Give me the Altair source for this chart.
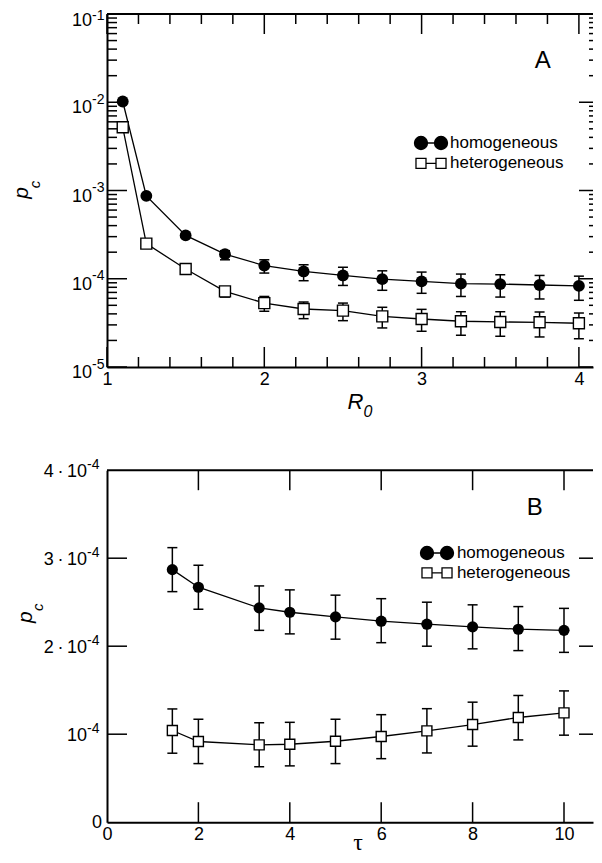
import altair as alt
import pandas as pd

FONT = "Liberation Sans"
SERIES = ["homogeneous", "heterogeneous"]

# ---------------- Panel A data ----------------
R0 = [1.1, 1.25, 1.5, 1.75, 2.0, 2.25, 2.5, 2.75, 3.0, 3.25, 3.5, 3.75, 4.0]
hom_A = [1.02e-2, 8.7e-4, 3.1e-4, 1.9e-4, 1.41e-4, 1.21e-4, 1.09e-4, 9.9e-5, 9.35e-5, 8.8e-5, 8.7e-5, 8.5e-5, 8.3e-5]
hom_A_lo = [9.8e-3, 8.4e-4, 2.95e-4, 1.64e-4, 1.16e-4, 9.5e-5, 8.4e-5, 7.4e-5, 6.84e-5, 6.3e-5, 6.2e-5, 5.9e-5, 5.7e-5]
hom_A_hi = [1.06e-2, 9.0e-4, 3.25e-4, 2.08e-4, 1.64e-4, 1.44e-4, 1.35e-4, 1.23e-4, 1.19e-4, 1.13e-4, 1.11e-4, 1.09e-4, 1.07e-4]
het_A = [5.2e-3, 2.5e-4, 1.29e-4, 7.2e-5, 5.3e-5, 4.54e-5, 4.35e-5, 3.75e-5, 3.5e-5, 3.3e-5, 3.24e-5, 3.21e-5, 3.13e-5]
het_A_lo = [5.0e-3, 2.4e-4, 1.24e-4, 6.2e-5, 4.28e-5, 3.53e-5, 3.35e-5, 2.77e-5, 2.54e-5, 2.29e-5, 2.23e-5, 2.19e-5, 2.09e-5]
het_A_hi = [5.4e-3, 2.6e-4, 1.34e-4, 8.05e-5, 6.3e-5, 5.45e-5, 5.3e-5, 4.75e-5, 4.5e-5, 4.23e-5, 4.23e-5, 4.2e-5, 4.09e-5]

A_XTICKS = [1, 2, 3, 4]
A_XMINOR = [1.2, 1.4, 1.6, 1.8, 2.2, 2.4, 2.6, 2.8, 3.2, 3.4, 3.6, 3.8]
A_YMAJOR = [1e-5, 1e-4, 1e-3, 1e-2, 1e-1]
A_YBASE = ["10", "10", "10", "10", "10"]
A_YSUP = ["-5", "-4", "-3", "-2", "-1"]
A_YMINOR = [2e-5, 3e-5, 4e-5, 5e-5, 6e-5, 7e-5, 8e-5, 9e-5,
            2e-4, 3e-4, 4e-4, 5e-4, 6e-4, 7e-4, 8e-4, 9e-4,
            2e-3, 3e-3, 4e-3, 5e-3, 6e-3, 7e-3, 8e-3, 9e-3,
            2e-2, 3e-2, 4e-2, 5e-2, 6e-2, 7e-2, 8e-2, 9e-2]
A_TAG = ["A"]
A_TAG_X = [3.77]
A_TAG_Y = [0.029]

# ---------------- Panel B data ----------------
TAU = [1.43, 2.0, 3.33, 4.0, 5.0, 6.0, 7.0, 8.0, 9.0, 10.0]
hom_B = [2.87e-4, 2.67e-4, 2.435e-4, 2.386e-4, 2.333e-4, 2.284e-4, 2.25e-4, 2.22e-4, 2.193e-4, 2.18e-4]
hom_B_lo = [2.62e-4, 2.42e-4, 2.18e-4, 2.14e-4, 2.08e-4, 2.04e-4, 2.00e-4, 1.97e-4, 1.95e-4, 1.93e-4]
hom_B_hi = [3.12e-4, 2.92e-4, 2.685e-4, 2.64e-4, 2.58e-4, 2.54e-4, 2.50e-4, 2.47e-4, 2.45e-4, 2.43e-4]
het_B = [1.042e-4, 0.917e-4, 0.879e-4, 0.886e-4, 0.92e-4, 0.974e-4, 1.038e-4, 1.11e-4, 1.19e-4, 1.242e-4]
het_B_lo = [0.784e-4, 0.666e-4, 0.63e-4, 0.64e-4, 0.666e-4, 0.722e-4, 0.787e-4, 0.864e-4, 0.935e-4, 0.989e-4]
het_B_hi = [1.287e-4, 1.17e-4, 1.13e-4, 1.135e-4, 1.17e-4, 1.222e-4, 1.29e-4, 1.364e-4, 1.44e-4, 1.492e-4]

B_XTICKS = [0, 2, 4, 6, 8, 10]
B_YMAJOR = [1e-4, 2e-4, 3e-4, 4e-4]
B_YBASE = ["10", "2\u2009\u00b7\u200910", "3\u2009\u00b7\u200910", "4\u2009\u00b7\u200910"]
B_YSUP = ["-4", "-4", "-4", "-4"]
B_TAG = ["B"]
B_TAG_X = [9.36]
B_TAG_Y = [3.57e-4]

# legend symbols (circle-line-circle, square-line-square)
PATH_CIRC = ("M-2.54,0A1,1,0,1,0,-0.54,0A1,1,0,1,0,-2.54,0Z"
             "M-0.54,0L0.54,0"
             "M0.54,0A1,1,0,1,0,2.54,0A1,1,0,1,0,0.54,0Z")
PATH_SQ = ("M-2.31,-0.77H-0.77V0.77H-2.31Z"
           "M-0.77,0H0.77"
           "M0.77,-0.77H2.31V0.77H0.77Z")

W = 486
HA = 353
HB = 352
FRAME_W = 2
DUMMY = pd.DataFrame({"k": [0]})


def make_panel(xs, hom, hom_lo, hom_hi, het, het_lo, het_hi, xsc, ysc, xax, H,
               xmaj, xmin, ymaj, ymin, hom_size, het_size,
               lab_groups, base_x, zero_label,
               tag, tag_x, tag_y, leg_x, leg_y, leg_off, leg_pad):
    yax = alt.Axis(title=None, grid=False, ticks=False, tickSize=0, labels=False,
                   domainColor="black", domainWidth=FRAME_W)

    def X(f):
        return alt.X(f"{f}:Q", scale=xsc, axis=xax)

    def Y(f):
        return alt.Y(f"{f}:Q", scale=ysc, axis=yax)

    hom_df = pd.DataFrame({"x": xs, "y": hom, "lo": hom_lo, "hi": hom_hi})
    het_df = pd.DataFrame({"x": xs, "y": het, "lo": het_lo, "hi": het_hi})

    layers = []
    # top frame line
    layers.append(alt.Chart(DUMMY).mark_rule(color="black", strokeWidth=FRAME_W).encode(
        x=alt.value(0), x2=alt.value(W), y=alt.value(0)))
    # inward ticks
    tick_w = 1.5
    if xmaj:
        d = pd.DataFrame({"v": xmaj})
        layers.append(alt.Chart(d).mark_rule(color="black", strokeWidth=tick_w).encode(
            x=X("v"), y=alt.value(H), y2=alt.value(H - 20)))
        layers.append(alt.Chart(d).mark_rule(color="black", strokeWidth=tick_w).encode(
            x=X("v"), y=alt.value(0), y2=alt.value(20)))
    if xmin:
        d = pd.DataFrame({"v": xmin})
        layers.append(alt.Chart(d).mark_rule(color="black", strokeWidth=tick_w).encode(
            x=X("v"), y=alt.value(H), y2=alt.value(H - 10)))
        layers.append(alt.Chart(d).mark_rule(color="black", strokeWidth=tick_w).encode(
            x=X("v"), y=alt.value(0), y2=alt.value(10)))
    if ymaj:
        d = pd.DataFrame({"v": ymaj})
        layers.append(alt.Chart(d).mark_rule(color="black", strokeWidth=tick_w).encode(
            y=Y("v"), x=alt.value(0), x2=alt.value(20)))
        layers.append(alt.Chart(d).mark_rule(color="black", strokeWidth=tick_w).encode(
            y=Y("v"), x=alt.value(W), x2=alt.value(W - 14)))
    if ymin:
        d = pd.DataFrame({"v": ymin})
        layers.append(alt.Chart(d).mark_rule(color="black", strokeWidth=tick_w).encode(
            y=Y("v"), x=alt.value(0), x2=alt.value(10)))
        layers.append(alt.Chart(d).mark_rule(color="black", strokeWidth=tick_w).encode(
            y=Y("v"), x=alt.value(W), x2=alt.value(W - 4)))

    # lines
    for df in (hom_df, het_df):
        layers.append(alt.Chart(df).mark_line(color="black", strokeWidth=1.3).encode(
            x=X("x"), y=Y("y"), order="x:Q"))
    # error bars
    for df in (hom_df, het_df):
        layers.append(alt.Chart(df).mark_rule(color="black", strokeWidth=1.5).encode(
            x=X("x"), y=Y("lo"), y2="hi:Q"))
        for f in ("lo", "hi"):
            layers.append(alt.Chart(df).mark_tick(orient="horizontal", color="black",
                                                  thickness=1.5, size=10, opacity=1).encode(
                x=X("x"), y=Y(f)))
    # markers
    layers.append(alt.Chart(hom_df).mark_point(shape="circle", filled=True, color="black",
                                               size=hom_size, opacity=1).encode(x=X("x"), y=Y("y")))
    layers.append(alt.Chart(het_df).mark_point(shape="square", filled=True, fill="white",
                                               stroke="black", strokeWidth=1.4,
                                               size=het_size, opacity=1).encode(x=X("x"), y=Y("y")))

    # y tick labels (base + superscript)
    for lab_df, base_dy, sup_dy in lab_groups:
        layers.append(alt.Chart(lab_df).mark_text(align="right", baseline="alphabetic", dy=base_dy,
                                                  fontSize=18, font=FONT, color="black").encode(
            x=alt.value(base_x), y=Y("v"), text="base:N"))
        layers.append(alt.Chart(lab_df).mark_text(align="left", baseline="alphabetic", dy=sup_dy,
                                                  fontSize=14, font=FONT, color="black").encode(
            x=alt.value(base_x), y=Y("v"), text="sup:N"))
    if zero_label:
        zdf = pd.DataFrame({"v": [0], "base": ["0"]})
        layers.append(alt.Chart(zdf).mark_text(align="right", baseline="alphabetic", dy=6,
                                               fontSize=18, font=FONT, color="black").encode(
            x=alt.value(-5), y=Y("v"), text="base:N"))

    # panel tag
    tdf = pd.DataFrame({"x": tag_x, "y": tag_y, "t": tag})
    layers.append(alt.Chart(tdf).mark_text(align="center", baseline="middle", fontSize=24,
                                           font=FONT, color="black").encode(
        x=X("x"), y=Y("y"), text="t:N"))

    # legend
    leg = alt.Legend(orient="none", legendX=leg_x, legendY=leg_y, title=None,
                     labelFont=FONT, labelFontSize=17, labelColor="black",
                     symbolSize=169, symbolStrokeColor="black", symbolStrokeWidth=1.3,
                     labelOffset=leg_off, rowPadding=leg_pad, padding=0)
    ldf = pd.DataFrame({"series": SERIES})
    layers.append(alt.Chart(ldf).transform_filter("false").mark_point(
        filled=True, strokeWidth=1.3, opacity=1).encode(
        shape=alt.Shape("series:N", scale=alt.Scale(domain=SERIES, range=[PATH_CIRC, PATH_SQ]),
                        legend=leg, sort=SERIES),
        fill=alt.Fill("series:N", scale=alt.Scale(domain=SERIES, range=["black", "white"]),
                      legend=leg, sort=SERIES),
        stroke=alt.Stroke("series:N", scale=alt.Scale(domain=SERIES, range=["black", "black"]),
                          legend=leg, sort=SERIES)))
    return layers


# ---- Panel A ----
xscA = alt.Scale(domain=[1, 1 + W / 157.3], nice=False, zero=False)
yscA = alt.Scale(type="log", domain=[1e-5, 1e-1], nice=False)
xaxA = alt.Axis(values=A_XTICKS, title=None, grid=False, ticks=False, tickSize=0,
                labelFont=FONT, labelFontSize=18, labelColor="black", labelPadding=3,
                labelFlush=False, domainColor="black", domainWidth=FRAME_W, format="d")
labA = pd.DataFrame({"v": A_YMAJOR, "base": A_YBASE, "sup": A_YSUP})
labA_main = labA[labA["v"] < 0.05]
labA_top = labA[labA["v"] > 0.05]
layersA = make_panel(R0, hom_A, hom_A_lo, hom_A_hi, het_A, het_A_lo, het_A_hi,
                     xscA, yscA, xaxA, HA, A_XTICKS, A_XMINOR, A_YMAJOR, A_YMINOR,
                     140, 121, [(labA_main, 11, 1.5), (labA_top, 12, 6)], -15, False,
                     A_TAG, A_TAG_X, A_TAG_Y, 315.5, 120.5, 10.5, 1.4)
# axis titles A
layersA.append(alt.Chart(DUMMY).mark_text(text="p", angle=270, fontStyle="italic", fontSize=21,
                                          font=FONT, align="center", baseline="alphabetic",
                                          color="black").encode(x=alt.value(-79), y=alt.value(179)))
layersA.append(alt.Chart(DUMMY).mark_text(text="c", angle=270, fontStyle="italic", fontSize=15,
                                          font=FONT, align="center", baseline="alphabetic",
                                          color="black").encode(x=alt.value(-67), y=alt.value(170.5)))
layersA.append(alt.Chart(DUMMY).mark_text(text="R", fontStyle="italic", fontSize=22, font=FONT,
                                          align="center", baseline="alphabetic",
                                          color="black").encode(x=alt.value(248.5), y=alt.value(HA + 42)))
layersA.append(alt.Chart(DUMMY).mark_text(text="0", fontStyle="italic", fontSize=16, font=FONT,
                                          align="center", baseline="alphabetic",
                                          color="black").encode(x=alt.value(261), y=alt.value(HA + 50)))
panelA = alt.layer(*layersA).properties(width=W, height=HA)

# ---- Panel B ----
xscB = alt.Scale(domain=[0, W / 45.7], nice=False, zero=False)
yscB = alt.Scale(domain=[0, 4e-4], nice=False)
xaxB = alt.Axis(values=B_XTICKS, title=None, grid=False, ticks=False, tickSize=0,
                labelFont=FONT, labelFontSize=18, labelColor="black", labelPadding=3,
                labelFlush=False, domainColor="black", domainWidth=FRAME_W, format="d")
labB = pd.DataFrame({"v": B_YMAJOR, "base": B_YBASE, "sup": B_YSUP})
layersB = make_panel(TAU, hom_B, hom_B_lo, hom_B_hi, het_B, het_B_lo, het_B_hi,
                     xscB, yscB, xaxB, HB, [2, 4, 6, 8, 10], [], [1e-4, 2e-4, 3e-4], [],
                     125, 100, [(labB, 7, -1.5)], -20, True,
                     B_TAG, B_TAG_X, B_TAG_Y, 321.5, 74.3, 11.4, 0.8)
layersB.append(alt.Chart(DUMMY).mark_text(text="p", angle=270, fontStyle="italic", fontSize=21,
                                          font=FONT, align="center", baseline="alphabetic",
                                          color="black").encode(x=alt.value(-75), y=alt.value(147)))
layersB.append(alt.Chart(DUMMY).mark_text(text="c", angle=270, fontStyle="italic", fontSize=15,
                                          font=FONT, align="center", baseline="alphabetic",
                                          color="black").encode(x=alt.value(-64), y=alt.value(137)))
layersB.append(alt.Chart(DUMMY).mark_text(text="\u03c4", fontSize=24, font="Liberation Serif",
                                          align="center", baseline="alphabetic",
                                          color="black").encode(x=alt.value(251), y=alt.value(HB + 28)))
panelB = alt.layer(*layersB).properties(width=W, height=HB)

chart = alt.vconcat(panelA, panelB, spacing=37.2).resolve_scale(
    shape="independent", fill="independent", stroke="independent"
).properties(
    padding={"left": 3, "top": 1, "right": 0, "bottom": 0}
).configure_view(strokeWidth=0)

chart.save("out.html", embed_options={"renderer": "svg", "actions": False})
